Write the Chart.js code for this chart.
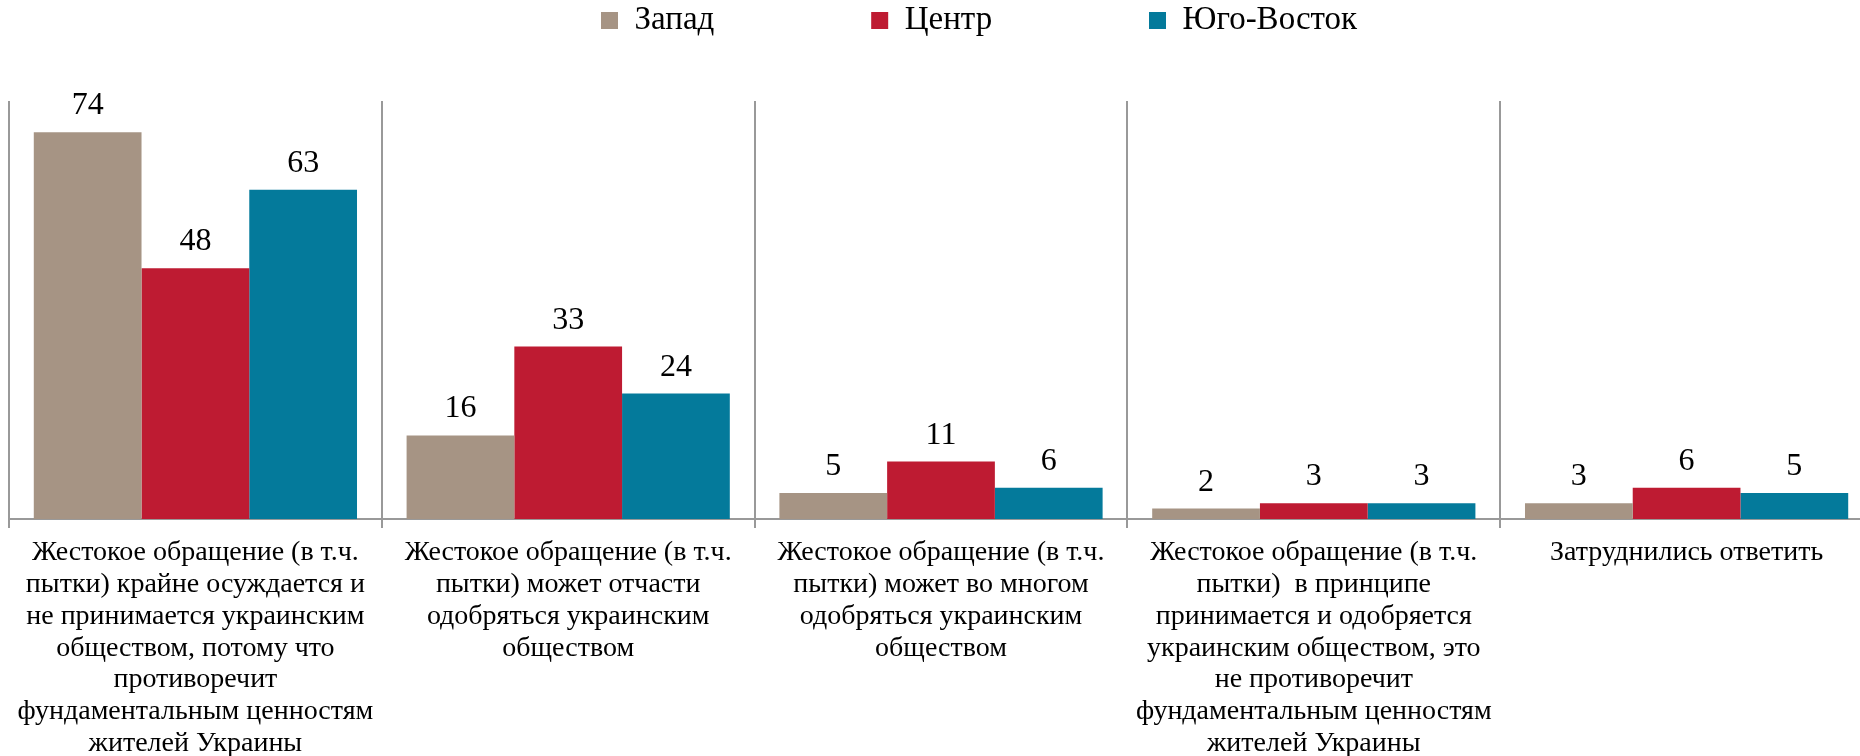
<!DOCTYPE html>
<html>
<head>
<meta charset="utf-8">
<script src="https://cdn.jsdelivr.net/npm/chart.js@4/dist/chart.umd.min.js"></script>
<style>
html,body{margin:0;padding:0;background:#fff;overflow:hidden;width:1860px;height:756px}
#wrap{width:1880px;height:756px}
</style>
</head>
<body>
<div id="wrap"><canvas id="c" width="1880" height="756"></canvas></div>
<script>
// ---- data ----
const categories = [
  ["Жестокое обращение (в т.ч.", "пытки) крайне осуждается и", "не принимается украинским", "обществом, потому что", "противоречит", "фундаментальным ценностям", "жителей Украины"],
  ["Жестокое обращение (в т.ч.", "пытки) может отчасти", "одобряться украинским", "обществом"],
  ["Жестокое обращение (в т.ч.", "пытки) может во многом", "одобряться украинским", "обществом"],
  ["Жестокое обращение (в т.ч.", "пытки)  в принципе", "принимается и одобряется", "украинским обществом, это", "не противоречит", "фундаментальным ценностям", "жителей Украины"],
  ["Затруднились ответить"]
];
const seriesNames = ["Запад", "Центр", "Юго-Восток"];
const zapad = [74, 16, 5, 2, 3];
const centr = [48, 33, 11, 3, 6];
const yugoVostok = [63, 24, 6, 3, 5];
const yMin = 0;
const yMax = 80;

// ---- styling ----
const FONT = "'Liberation Serif', 'Times New Roman', serif";
const LEGEND_SIZE = 33;
const LEGEND_BOX = 17;
const mctx = document.createElement('canvas').getContext('2d');
mctx.font = LEGEND_SIZE + 'px ' + FONT;
const avgW = (mctx.measureText(seriesNames[0]).width + mctx.measureText(seriesNames[1]).width) / 2;
const legendPad = Math.max(10, 274 - (LEGEND_BOX + LEGEND_SIZE / 2) - avgW);

const legendPlace = {
  id: 'legendPlace',
  afterLayout(chart) {
    const lg = chart.legend;
    const p = lg.options.labels.padding;
    lg.left = 601 - p;
    lg.top = 4 - p;
  }
};

const barValueLabels = {
  id: 'barValueLabels',
  afterDatasetsDraw(chart) {
    const ctx = chart.ctx;
    ctx.save();
    ctx.font = '32px ' + FONT;
    ctx.fillStyle = '#000';
    ctx.textAlign = 'center';
    ctx.textBaseline = 'alphabetic';
    chart.data.datasets.forEach((ds, i) => {
      chart.getDatasetMeta(i).data.forEach((bar, j) => {
        ctx.fillText(String(ds.data[j]), bar.x, bar.y - 18);
      });
    });
    ctx.restore();
  }
};

new Chart(document.getElementById('c'), {
  type: 'bar',
  data: {
    labels: categories,
    datasets: [
      { label: seriesNames[0], data: zapad, backgroundColor: '#A69484' },
      { label: seriesNames[1], data: centr, backgroundColor: '#BE1B32' },
      { label: seriesNames[2], data: yugoVostok, backgroundColor: '#047A9B' }
    ]
  },
  options: {
    responsive: false,
    animation: false,
    devicePixelRatio: 1,
    layout: { padding: { left: 9, right: 7, top: 0, bottom: 0 } },
    datasets: { bar: { barPercentage: 1, categoryPercentage: 0.867, borderWidth: 0 } },
    plugins: {
      legend: {
        position: 'top',
        align: 'start',
        maxHeight: 101,
        labels: {
          boxWidth: LEGEND_BOX,
          boxHeight: LEGEND_BOX,
          padding: legendPad,
          color: '#000',
          font: { family: FONT, size: LEGEND_SIZE }
        }
      },
      tooltip: { enabled: false }
    },
    scales: {
      x: {
        grid: { display: true, offset: true, color: '#999', lineWidth: 2, tickLength: 9, drawOnChartArea: true },
        border: { display: true, color: '#999', width: 2 },
        ticks: {
          color: '#000',
          font: { family: FONT, size: 28, lineHeight: 1.135 },
          padding: 9,
          maxRotation: 0,
          minRotation: 0,
          autoSkip: false
        },
        afterFit(scale) { scale.height = 237; }
      },
      y: { display: false, min: yMin, max: yMax }
    }
  },
  plugins: [legendPlace, barValueLabels]
});
</script>
</body>
</html>
